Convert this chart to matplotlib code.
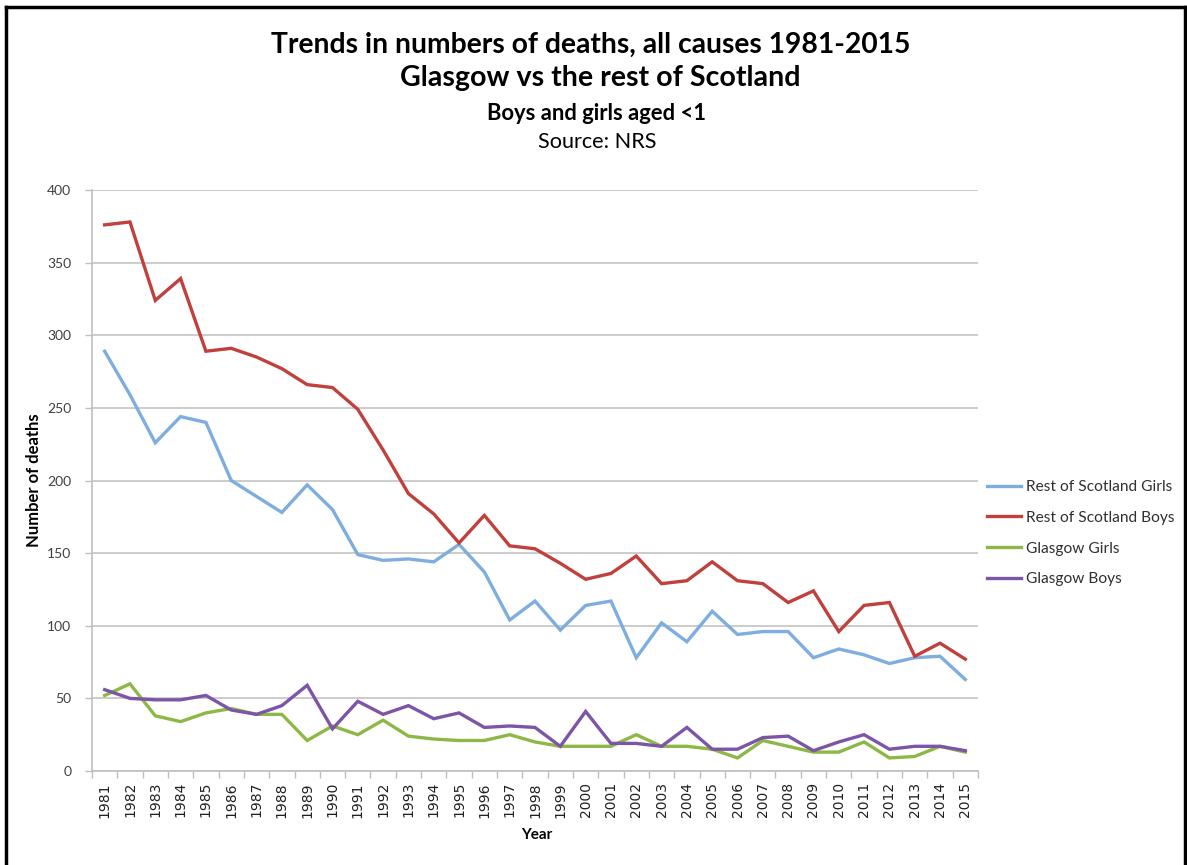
import matplotlib
matplotlib.use("Agg")
import matplotlib.pyplot as plt
from matplotlib.lines import Line2D

years = list(range(1981, 2016))
year_labels = [str(y) for y in years]

rest_girls = [289, 259, 226, 244, 240, 200, 189, 178, 197, 180, 149, 145, 146, 144, 156,
              137, 104, 117, 97, 114, 117, 78, 102, 89, 110, 94, 96, 96, 78, 84,
              80, 74, 78, 79, 63]
rest_boys = [376, 378, 324, 339, 289, 291, 285, 277, 266, 264, 249, 221, 191, 177, 157,
             176, 155, 153, 143, 132, 136, 148, 129, 131, 144, 131, 129, 116, 124, 96,
             114, 116, 79, 88, 77]
glasgow_girls = [52, 60, 38, 34, 40, 43, 39, 39, 21, 31, 25, 35, 24, 22, 21,
                 21, 25, 20, 17, 17, 17, 25, 17, 17, 15, 9, 21, 17, 13, 13,
                 20, 9, 10, 17, 13]
glasgow_boys = [56, 50, 49, 49, 52, 42, 39, 45, 59, 29, 48, 39, 45, 36, 40,
                30, 31, 30, 17, 41, 19, 19, 17, 30, 15, 15, 23, 24, 14, 20,
                25, 15, 17, 17, 14]

series_names = ["Rest of Scotland Girls", "Rest of Scotland Boys", "Glasgow Girls", "Glasgow Boys"]
series_values = [rest_girls, rest_boys, glasgow_girls, glasgow_boys]
series_colors = ["#7EADE0", "#C0403D", "#8DB845", "#7D55A6"]

y_ticks = [0, 50, 100, 150, 200, 250, 300, 350, 400]

W, H = 1187, 865
fig = plt.figure(figsize=(W / 100, H / 100), dpi=100)
fig.patch.set_facecolor("white")

ax = fig.add_axes([92 / W, 1 - 771 / H, (978 - 92) / W, (771 - 190) / H])

x = list(range(len(years)))
for name, vals, col in zip(series_names, series_values, series_colors):
    ax.plot(x, vals, color=col, lw=2.4, label=name, solid_joinstyle="miter")

ax.set_xlim(-0.5, len(years) - 0.5)
ax.set_ylim(0, 400)
ax.set_yticks(y_ticks)
ax.set_yticklabels([str(v) for v in y_ticks], fontsize=10, color="#404040", family="Lato")
ax.set_xticks(x)
ax.set_xticklabels(year_labels, rotation=90, fontsize=10, color="#202020", family="DejaVu Sans")
ax.set_xticks([i - 0.5 for i in range(len(years) + 1)], minor=True)
ax.tick_params(axis="x", which="major", length=0, pad=8)
ax.tick_params(axis="x", which="minor", length=5, color="#BFBFBF", width=1)
ax.tick_params(axis="y", length=5, color="#BFBFBF", width=1, pad=10)

ax.grid(axis="y", color="#C8C8C8", lw=1.3)
ax.set_axisbelow(True)
for s in ["top", "right"]:
    ax.spines[s].set_visible(False)
ax.spines["left"].set_color("#BFBFBF")
ax.spines["bottom"].set_color("#BFBFBF")
ax.spines["left"].set_linewidth(1.2)
ax.spines["bottom"].set_linewidth(1.2)

ax.set_ylabel("Number of deaths", fontsize=12, fontweight="bold", family="Lato")
ax.yaxis.set_label_coords(-50 / (978 - 92), 0.50)
ax.set_xlabel("Year", fontsize=11, fontweight="bold", family="Lato")
ax.xaxis.set_label_coords((537 - 92) / (978 - 92), -(828 - 771) / (771 - 190))

# titles
fig.text(591 / W, 1 - 45 / H, "Trends in numbers of deaths, all causes 1981-2015",
         ha="center", va="center", fontsize=20.3, fontweight="bold", family="Lato")
fig.text(600 / W, 1 - 78 / H, "Glasgow vs the rest of Scotland",
         ha="center", va="center", fontsize=20.6, fontweight="bold", family="Lato")
fig.text(597 / W, 1 - 113 / H, "Boys and girls aged <1",
         ha="center", va="center", fontsize=15.8, fontweight="bold", family="Lato")
fig.text(597 / W, 1 - 142 / H, "Source: NRS",
         ha="center", va="center", fontsize=15.6, family="Lato")

# legend
handles = [Line2D([0], [0], color=c, lw=2.4) for c in series_colors]
leg = fig.legend(handles, series_names, loc="upper left",
                 bbox_to_anchor=(987 / W, 1 - 480 / H), frameon=False,
                 prop={"family": "Lato", "size": 11.2}, handlelength=2.2,
                 handletextpad=0.3, labelspacing=1.08, borderpad=0,
                 borderaxespad=0)
for t in leg.get_texts():
    t.set_color("#303030")

# outer frame
frame_kw = dict(color="black", lw=2.5, transform=fig.transFigure)
fig.add_artist(Line2D([6 / W, 6 / W], [0, 1 - 7 / H], **frame_kw))
fig.add_artist(Line2D([6 / W, 1185 / W], [1 - 7 / H, 1 - 7 / H], **frame_kw))
fig.add_artist(Line2D([1185 / W, 1185 / W], [0, 1 - 7 / H], **frame_kw))

fig.savefig("out.png", dpi=100, facecolor="white")
